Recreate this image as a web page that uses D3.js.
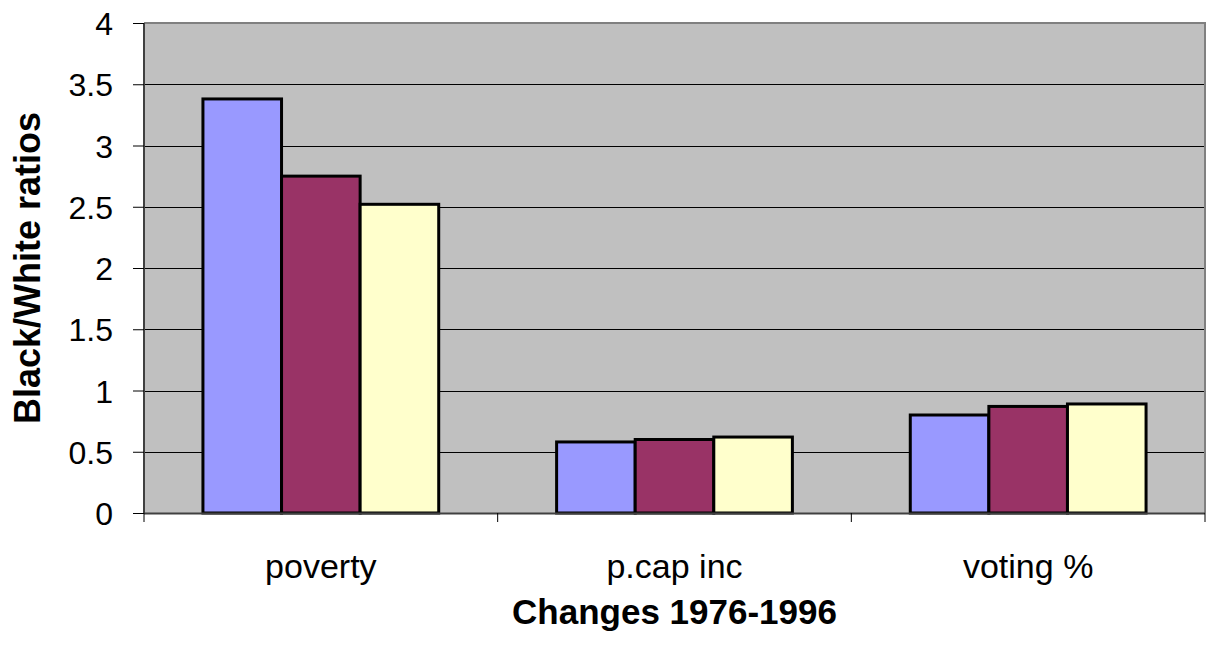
<!DOCTYPE html>
<html>
<head>
<meta charset="utf-8">
<script src="https://cdn.jsdelivr.net/npm/d3@7"></script>
<style>
html,body{margin:0;padding:0;background:#fff;}
svg{display:block;font-family:"Liberation Sans",Arial,sans-serif;}
</style>
</head>
<body>
<svg id="chart" width="1209" height="646"></svg>
<script>
const categories = ["poverty", "p.cap inc", "voting %"];
const seriesNames = ["1976", "1986", "1996"];
const seriesColors = ["#9999FF", "#993366", "#FFFFCC"];
const series1 = [3.38, 0.58, 0.80];
const series2 = [2.75, 0.60, 0.87];
const series3 = [2.52, 0.62, 0.89];
const yTicks = [0, 0.5, 1, 1.5, 2, 2.5, 3, 3.5, 4];
const yLabel = "Black/White ratios";
const xLabel = "Changes 1976-1996";

const allSeries = [series1, series2, series3];
const svg = d3.select("#chart");
const L = 144, R = 1205, T = 23, B = 513;

const x = d3.scaleBand().domain(categories).range([L, R]).paddingInner(0).paddingOuter(0);
const catW = x.bandwidth();
const barW = catW / 4.5;
const xs = d3.scaleBand().domain(seriesNames).range([0.75 * barW, 3.75 * barW]).padding(0);
const y = d3.scaleLinear().domain([0, 4]).range([B, T]);

// plot background
svg.append("rect").attr("x", L).attr("y", T).attr("width", R - L).attr("height", B - T).attr("fill", "#C0C0C0");

// gridlines
svg.append("g").selectAll("line").data(yTicks.filter(d => d > 0 && d < 4)).join("line")
  .attr("x1", L).attr("x2", R).attr("y1", d => Math.round(y(d)) + 0.5).attr("y2", d => Math.round(y(d)) + 0.5)
  .attr("stroke", "#000").attr("stroke-width", 1);

// border top/right gray
svg.append("path").attr("d", `M${L},${T} H${R} V${B}`).attr("fill", "none").attr("stroke", "#808080").attr("stroke-width", 2);

// bars
const data = [];
categories.forEach((c, i) => allSeries.forEach((s, j) => data.push({c, s: seriesNames[j], v: s[i], color: seriesColors[j]})));
svg.append("g").selectAll("rect").data(data).join("rect")
  .attr("x", d => x(d.c) + xs(d.s))
  .attr("y", d => y(d.v))
  .attr("width", xs.bandwidth())
  .attr("height", d => y(0) - y(d.v))
  .attr("fill", d => d.color)
  .attr("stroke", "#000").attr("stroke-width", 3);

// y axis
const yAxis = d3.axisLeft(y).tickValues(yTicks).tickSize(11).tickPadding(20).tickFormat(d3.format("~g"));
const gy = svg.append("g").attr("transform", `translate(${L},0)`).call(yAxis);
gy.select(".domain").attr("stroke", "#404040").attr("stroke-width", 2).attr("d", `M0,${T}V${B}`);
gy.selectAll(".tick line").attr("stroke", "#000");
gy.selectAll("text").attr("font-size", 32).attr("fill", "#000").attr("font-family", "Liberation Sans, Arial, sans-serif").attr("dy", "0.36em");

// x axis
const gx = svg.append("g").attr("transform", `translate(0,${B})`);
gx.append("line").attr("x1", L).attr("x2", R).attr("y1", 0.5).attr("y2", 0.5).attr("stroke", "#404040").attr("stroke-width", 2);
const bounds = categories.map(c => x(c)).concat([R]);
gx.selectAll("line.t").data(bounds).join("line").attr("class", "t")
  .attr("x1", d => d).attr("x2", d => d).attr("y1", 0).attr("y2", 9).attr("stroke", "#000");
gx.selectAll("text").data(categories).join("text")
  .attr("x", d => x(d) + catW / 2).attr("y", 65)
  .attr("text-anchor", "middle").attr("font-size", 34).attr("fill", "#000")
  .text(d => d);

// axis titles
svg.append("text").attr("x", (L + R) / 2).attr("y", 624).attr("text-anchor", "middle")
  .attr("font-size", 35).attr("font-weight", "bold").text(xLabel);
svg.append("text").attr("transform", `translate(40,268) rotate(-90)`).attr("text-anchor", "middle")
  .attr("font-size", 36).attr("font-weight", "bold").text(yLabel);
</script>
</body>
</html>
